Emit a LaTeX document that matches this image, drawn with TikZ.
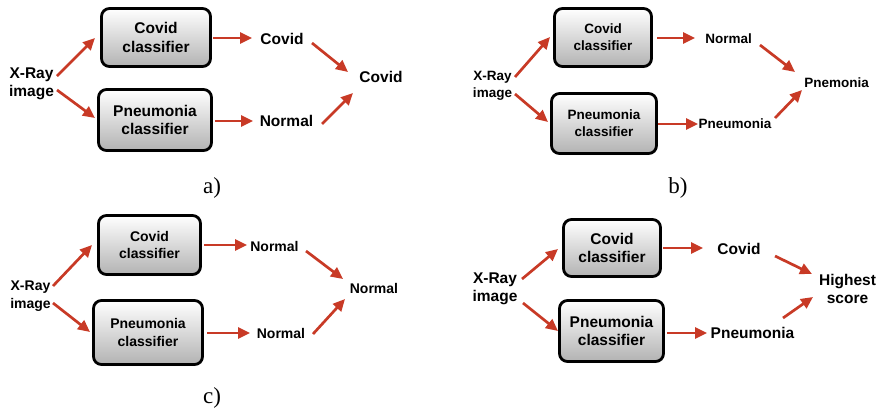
\documentclass[tikz,border=0pt]{standalone}
\usepackage{fontspec}
\setsansfont{Liberation Sans}
\newfontfamily\capfont{Liberation Serif}
\usetikzlibrary{arrows.meta,calc,shadows}

\definecolor{arrowred}{RGB}{200,58,38}

\tikzset{
  classbox/.style={draw=black, line width=2.8pt, rounded corners=8pt,
    top color=white, bottom color=black!30, align=center, inner sep=0pt,
    drop shadow={opacity=0.2, shadow xshift=1pt, shadow yshift=-1.5pt}},
  lbl/.style={align=center, inner sep=0pt, font=\sffamily\bfseries},
  big/.style={font=\sffamily\bfseries\fontsize{15.5}{18.5}\selectfont},
  small/.style={font=\sffamily\bfseries\fontsize{13.5}{17}\selectfont},
  mid/.style={font=\sffamily\bfseries\fontsize{14}{17.5}\selectfont},
  arr/.style={draw=arrowred, line width=2.7pt,
    -{Triangle[length=12pt,width=11pt]}},
  caption/.style={inner sep=0pt, font=\capfont\fontsize{23}{27}\selectfont}
}

\begin{document}
\begin{tikzpicture}[x=1pt,y=-1pt]
\useasboundingbox (0,0) rectangle (880,413);

% ---------- a) ----------
\node[lbl,big] (xA) at (31.5,84) {X-Ray\\image};
\node[classbox,big,minimum width=109pt,minimum height=58pt] (cA) at (156,37.5) {Covid\\classifier};
\node[classbox,big,minimum width=113pt,minimum height=61pt] (pA) at (155,120) {Pneumonia\\classifier};
\node[lbl,big] (oA1) at (282,39) {Covid};
\node[lbl,big] (oA2) at (286.5,121) {Normal};
\node[lbl,big] (fA) at (381,77) {Covid};
\node[caption] (capA) at (212,188) {a)};
\draw[arr] ($(xA)+(25.5,-8)$) -- ($(cA)+(-61,0.5)$);
\draw[arr] ($(xA)+(25.5,6)$) -- ($(pA)+(-60,-2)$);
\draw[arr] ($(cA)+(57,0.5)$) -- ($(oA1)+(-30,-1)$);
\draw[arr] ($(pA)+(60,1)$) -- ($(oA2)+(-33.5,0)$);
\draw[arr] ($(oA1)+(30,4)$) -- ($(fA)+(-33,-5)$);
\draw[arr] ($(oA2)+(35.5,3)$) -- ($(fA)+(-28,16)$);

% ---------- b) ----------
\node[lbl,small] (xB) at (492.5,86) {X-Ray\\image};
\node[classbox,small,minimum width=97pt,minimum height=58pt] (cB) at (603,37.5) {Covid\\classifier};
\node[classbox,small,minimum width=105pt,minimum height=60pt] (pB) at (604,123.5) {Pneumonia\\classifier};
\node[lbl,small] (oB1) at (728.5,39) {Normal};
\node[lbl,small] (oB2) at (735,124) {Pneumonia};
\node[lbl,small] (fB) at (836.5,83) {Pnemonia};
\node[caption] (capB) at (678,188) {b)};
\draw[arr] ($(xB)+(22.5,-9)$) -- ($(cB)+(-53,-0.5)$);
\draw[arr] ($(xB)+(22.5,8)$) -- ($(pB)+(-56,-1.5)$);
\draw[arr] ($(cB)+(54,0.5)$) -- ($(oB1)+(-33.5,-1)$);
\draw[arr] ($(pB)+(54,0.5)$) -- ($(oB2)+(-37,0)$);
\draw[arr] ($(oB1)+(31.5,6)$) -- ($(fB)+(-41.5,-11)$);
\draw[arr] ($(oB2)+(40,-6)$) -- ($(fB)+(-34.5,7)$);

% ---------- c) ----------
\node[lbl,mid] (xC) at (30.5,296) {X-Ray\\image};
\node[classbox,mid,minimum width=102pt,minimum height=59pt] (cC) at (149.5,245) {Covid\\classifier};
\node[classbox,mid,minimum width=109pt,minimum height=64pt] (pC) at (148,332.5) {Pneumonia\\classifier};
\node[lbl,mid] (oC1) at (274.5,246) {Normal};
\node[lbl,mid] (oC2) at (281,333) {Normal};
\node[lbl,mid] (fC) at (374,288) {Normal};
\node[caption] (capC) at (212,398) {c)};
\draw[arr] ($(xC)+(22.5,-10)$) -- ($(cC)+(-57.5,0)$);
\draw[arr] ($(xC)+(22.5,7)$) -- ($(pC)+(-58,-0.5)$);
\draw[arr] ($(cC)+(54.5,0)$) -- ($(oC1)+(-27.5,-1)$);
\draw[arr] ($(pC)+(59,0.5)$) -- ($(oC2)+(-31,0)$);
\draw[arr] ($(oC1)+(31.5,5)$) -- ($(fC)+(-31,-9)$);
\draw[arr] ($(oC2)+(32,1)$) -- ($(fC)+(-29,11)$);

% ---------- d) ----------
\node[lbl,big] (xD) at (495,289) {X-Ray\\image};
\node[classbox,big,minimum width=97pt,minimum height=57pt] (cD) at (612,248) {Covid\\classifier};
\node[classbox,big,minimum width=104pt,minimum height=61pt] (pD) at (611.5,331) {Pneumonia\\classifier};
\node[lbl,big] (oD1) at (739,249) {Covid};
\node[lbl,big] (oD2) at (752.5,333) {Pneumonia};
\node[lbl,big] (fD) at (847.5,289) {Highest\\score};
\draw[arr] ($(xD)+(27,-10)$) -- ($(cD)+(-54,1)$);
\draw[arr] ($(xD)+(28,14)$) -- ($(pD)+(-53.5,0)$);
\draw[arr] ($(cD)+(51,0)$) -- ($(oD1)+(-36,-1)$);
\draw[arr] ($(pD)+(55.5,2)$) -- ($(oD2)+(-45.5,0)$);
\draw[arr] ($(oD1)+(36,7)$) -- ($(fD)+(-35.5,-15)$);
\draw[arr] ($(oD2)+(30.5,-15)$) -- ($(fD)+(-34.5,8)$);
\end{tikzpicture}
\end{document}
